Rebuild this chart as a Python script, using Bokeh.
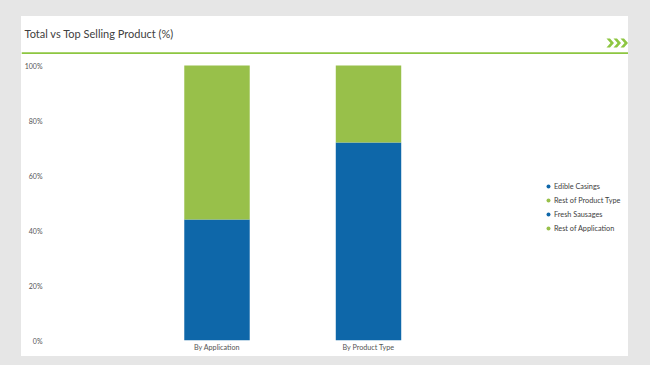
from bokeh.plotting import figure
from bokeh.layouts import column, row
from bokeh.models import Range1d, FixedTicker, NumeralTickFormatter, Legend, LegendItem
from bokeh.embed import file_html
from bokeh.resources import INLINE
from bokeh.core.properties import value

# ---- data ----
categories = ["By Application", "By Product Type"]
top_labels = ["Fresh Sausages", "Edible Casings"]
rest_labels = ["Rest of Application", "Rest of Product Type"]
top_share = [0.44, 0.72]
rest_share = [0.56, 0.28]
y_ticks = [0.0, 0.2, 0.4, 0.6, 0.8, 1.0]
title_text = "Total vs Top Selling Product (%)"

BLUE = "#0e67a9"
GREEN = "#98c04a"
LINE_GREEN = "#8dc641"
GREY_BG = "#e6e6e6"
FONT = "Lato"
TXT = "#404040"

W = 607

# ---- header strip ----
hdr = figure(width=W, height=38, output_backend="svg", toolbar_location=None,
             x_axis_type=None, y_axis_type=None,
             x_range=Range1d(0, W), y_range=Range1d(38, 0),
             min_border=0, min_border_left=0, min_border_right=0,
             min_border_top=0, min_border_bottom=0,
             styles={"background-color": "white"})
hdr.grid.visible = False
hdr.outline_line_color = None
hdr.background_fill_color = "white"
hdr.border_fill_color = "white"
hdr.text(x=[3], y=[16.5], text=[title_text], text_font=value(FONT),
         text_font_size="11px", text_color=TXT,
         text_baseline="middle", text_align="left")
hdr.quad(left=[0], right=[W], top=[35.7], bottom=[37.8], fill_color=LINE_GREEN, line_color=None)
chev_xs, chev_ys = [], []
for i in range(3):
    x0 = 585 + i * 7
    chev_xs.append([x0, x0 + 3.5, x0 + 7.5, x0 + 3.5, x0, x0 + 4])
    chev_ys.append([22, 22, 26.5, 31, 31, 26.5])
hdr.patches(chev_xs, chev_ys, fill_color=LINE_GREEN, line_color=None)

# ---- main chart ----
idx = list(range(len(categories)))
p = figure(width=W, height=302, output_backend="svg", toolbar_location=None,
           x_range=Range1d(-1.12541, 2.71617), y_range=Range1d(0, 1.04),
           min_border_left=25, min_border_right=0, min_border_top=0, min_border_bottom=16,
           styles={"background-color": "white"})
p.outline_line_color = None
p.grid.visible = False
p.background_fill_color = "white"
p.border_fill_color = "white"

bw = 0.432
for i in idx:
    p.vbar(x=[i], bottom=[0], top=[top_share[i]], width=bw,
           fill_color=BLUE, line_color=None)
    p.vbar(x=[i], bottom=[top_share[i]], top=[top_share[i] + rest_share[i]],
           width=bw, fill_color=GREEN, line_color=None)

p.yaxis.ticker = FixedTicker(ticks=y_ticks)
p.yaxis.formatter = NumeralTickFormatter(format="0%")
p.xaxis.ticker = FixedTicker(ticks=idx)
p.xaxis.major_label_overrides = {i: c for i, c in zip(idx, categories)}
for ax in (p.xaxis, p.yaxis):
    ax.axis_line_color = None
    ax.major_tick_line_color = None
    ax.minor_tick_line_color = None
    ax.major_tick_out = 0
    ax.major_tick_in = 0
    ax.major_label_text_font = FONT
    ax.major_label_text_color = "#555555"
p.yaxis.major_label_text_font_size = "7px"
p.yaxis.major_label_standoff = 4
p.xaxis.major_label_text_font_size = "7.2px"
p.xaxis.major_label_standoff = 2

# legend (order as in the reference: product type first)
nan = float("nan")
items = []
for i in [1, 0]:
    d1 = p.scatter(x=[nan], y=[nan], marker="circle", size=4, fill_color=BLUE, line_color=None)
    d2 = p.scatter(x=[nan], y=[nan], marker="circle", size=4, fill_color=GREEN, line_color=None)
    items.append(LegendItem(label=top_labels[i], renderers=[d1]))
    items.append(LegendItem(label=rest_labels[i], renderers=[d2]))
leg = Legend(items=items, location=(497, 107), orientation="vertical",
             glyph_width=10, glyph_height=10, label_height=10, spacing=4,
             label_standoff=1, padding=0, margin=0,
             label_text_font=FONT, label_text_font_size="7.3px", label_text_color=TXT,
             border_line_color=None, background_fill_alpha=0)
p.add_layout(leg, "center")

layout = column(row(hdr), p, spacing=0, margin=(16, 0, 0, 21))

html = file_html(layout, INLINE)
k = html.rfind("</head>")
html = html[:k] + "<style>body{background-color:%s;}</style>" % GREY_BG + html[k:]
open("out.html", "w").write(html)
